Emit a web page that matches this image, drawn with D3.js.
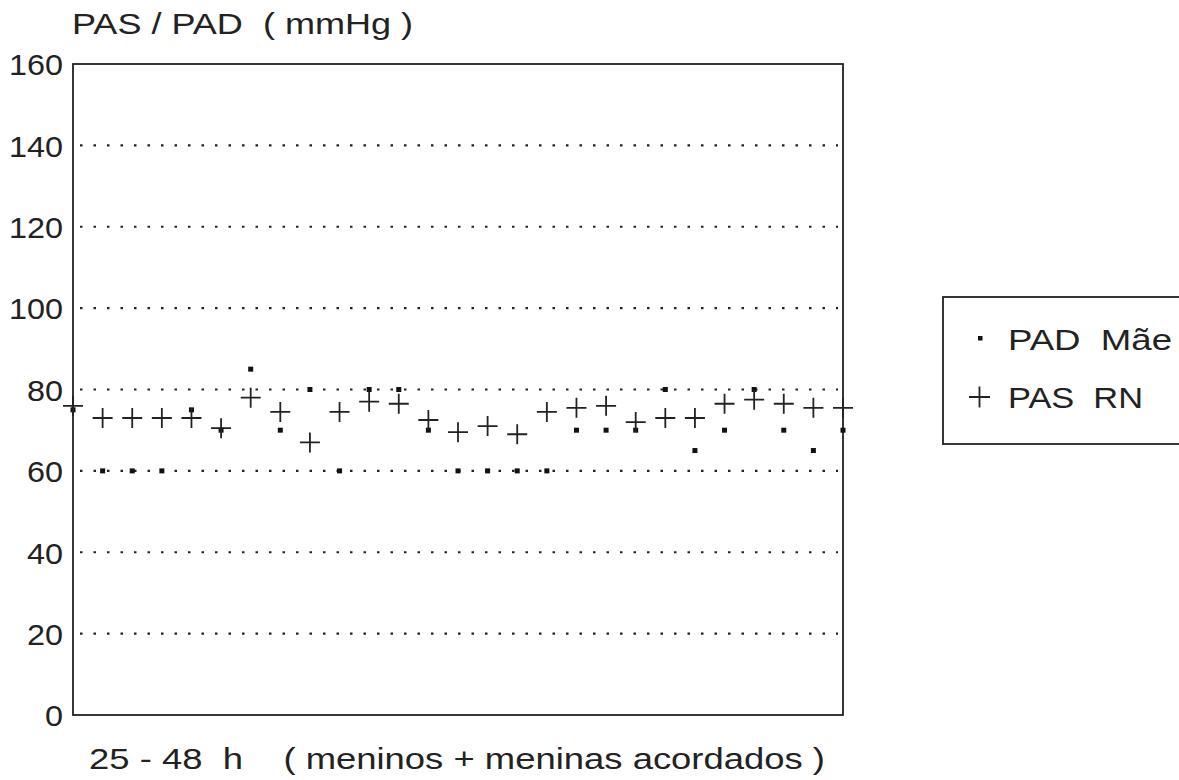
<!DOCTYPE html>
<html>
<head>
<meta charset="utf-8">
<script src="https://cdn.jsdelivr.net/npm/d3@7"></script>
<style>
  body{margin:0;background:#fff;}
  text{font-family:"Liberation Sans",Arial,sans-serif;fill:#222;white-space:pre;}
</style>
</head>
<body>
<svg id="chart" width="1179" height="780"></svg>
<script>
// readings, 27 points from left edge to right edge of the frame
const pasRN  = [76,73,73,73,73,70.5,78,74.5,67,74.5,77,76.5,72.5,69.5,71,69,74.5,75.5,76,72,73,73,76.5,77.5,76.5,75.5,75.5];
const padMae = [75,60,60,60,75,70,85,70,80,60,80,80,70,60,60,60,60,70,70,70,80,65,70,80,70,65,70];
const yTicks = [0,20,40,60,80,100,120,140,160];
const gridTicks = [20,40,60,80,100,120,140];

const svg=d3.select("#chart");
const x=d3.scaleLinear().domain([0,pasRN.length-1]).range([73,843]);
const y=d3.scaleLinear().domain([0,160]).range([715,64]);

// dotted grid
svg.append("g").selectAll("line").data(gridTicks).join("line")
  .attr("x1",80).attr("x2",838)
  .attr("y1",d=>y(d)).attr("y2",d=>y(d))
  .attr("stroke","#222").attr("stroke-width",2.2)
  .attr("stroke-dasharray","2.5,11");

// frame
svg.append("rect").attr("x",73).attr("y",y(160))
  .attr("width",843-73).attr("height",y(0)-y(160))
  .attr("fill","none").attr("stroke","#222").attr("stroke-width",1.8);

// y tick labels
const yAxis=d3.axisLeft(y).tickValues(yTicks).tickSize(0).tickPadding(10);
const ga=svg.append("g").attr("transform","translate(73,0)").call(yAxis);
ga.select(".domain").remove();
ga.selectAll("text").style("font-size","30px").attr("dy","0.36em")
  .style("font-family","'Liberation Sans',Arial,sans-serif").attr("fill","#222")
  .attr("textLength",d=>d>=100?54:(d>0?36:18)).attr("lengthAdjust","spacingAndGlyphs");

// PAD Mae dots
svg.append("g").selectAll("rect").data(padMae).join("rect")
  .attr("x",(d,i)=>x(i)-2.5).attr("y",d=>y(d)-2.5)
  .attr("width",5).attr("height",5).attr("fill","#111");

// PAS RN crosses
const cr=svg.append("g").attr("stroke","#222").attr("stroke-width",1.8);
cr.selectAll("path").data(pasRN).join("path")
  .attr("d",(d,i)=>`M${x(i)-10},${y(d)}h20M${x(i)},${y(d)-10}v20`);

// titles
svg.append("text").attr("x",72).attr("y",34).style("font-size","29px")
  .attr("textLength",341).attr("lengthAdjust","spacingAndGlyphs").text("PAS / PAD  ( mmHg )");
svg.append("text").attr("x",89).attr("y",769).style("font-size","29px")
  .attr("textLength",736).attr("lengthAdjust","spacingAndGlyphs").text("25 - 48  h    ( meninos + meninas acordados )");

// legend
const lg=svg.append("g");
lg.append("rect").attr("x",943).attr("y",297).attr("width",260).attr("height",147)
  .attr("fill","none").attr("stroke","#222").attr("stroke-width",1.8);
lg.append("rect").attr("x",978).attr("y",336).attr("width",4.5).attr("height",4.5).attr("fill","#111");
lg.append("text").attr("x",1008).attr("y",350).style("font-size","29px")
  .attr("textLength",164).attr("lengthAdjust","spacingAndGlyphs").text("PAD  Mãe");
lg.append("path").attr("d","M969,397h21M979.5,386.5v21").attr("stroke","#222").attr("stroke-width",1.8);
lg.append("text").attr("x",1008).attr("y",408).style("font-size","29px")
  .attr("textLength",135).attr("lengthAdjust","spacingAndGlyphs").text("PAS  RN");
</script>
</body>
</html>
